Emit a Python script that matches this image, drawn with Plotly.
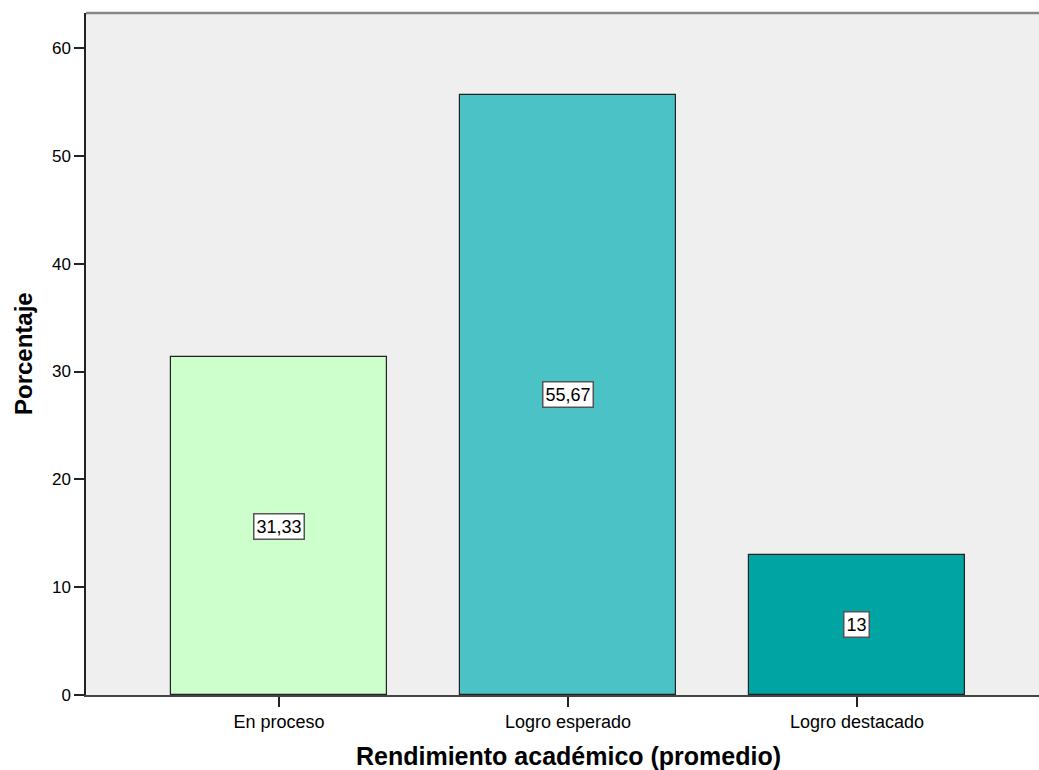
import plotly.graph_objects as go

categories = ["En proceso", "Logro esperado", "Logro destacado"]
values = [31.33, 55.67, 13]
labels = ["31,33", "55,67", "13"]
colors = ["#CCFFCC", "#4BC3C6", "#00A5A3"]
yticks = [0, 10, 20, 30, 40, 50, 60]

FONT = "Liberation Sans, Arial, sans-serif"

fig = go.Figure()
fig.add_trace(go.Bar(
    x=list(range(len(categories))), y=values,
    marker=dict(color=colors, line=dict(color="#222222", width=1.2)),
    width=0.748, hoverinfo="skip", showlegend=False,
))

for i, (v, lab) in enumerate(zip(values, labels)):
    fig.add_annotation(
        x=i, y=v / 2, text=lab, showarrow=False,
        font=dict(family=FONT, size=18, color="#000000"),
        bgcolor="#FFFFFF", bordercolor="#555555", borderwidth=1.5, borderpad=2,
    )

# axis titles
fig.add_annotation(xref="paper", yref="paper", x=0.5058, y=0, yanchor="middle",
                   yshift=-61, showarrow=False,
                   text="<b>Rendimiento académico (promedio)</b>",
                   font=dict(family=FONT, size=25, color="#000000"))
fig.add_annotation(xref="paper", yref="paper", x=0, y=0.5, xanchor="center",
                   xshift=-63, textangle=-90, showarrow=False,
                   text="<b>Porcentaje</b>",
                   font=dict(family=FONT, size=24, color="#000000"))

fig.add_shape(type="line", xref="paper", yref="paper", x0=0, x1=1, y0=1, y1=1,
              line=dict(color="#888888", width=2.5))

fig.update_layout(
    width=1039, height=770,
    margin=dict(l=86, r=0, t=13, b=75),
    paper_bgcolor="#FFFFFF", plot_bgcolor="#EFEFEF",
    font=dict(family=FONT, size=17, color="#000000"),
    bargap=0,
    xaxis=dict(
        tickmode="array", tickvals=list(range(len(categories))), ticktext=categories,
        range=[-0.668, 2.63], showgrid=False, zeroline=False,
        showline=True, linecolor="#444444", linewidth=1.5,
        ticks="outside", ticklen=10, tickcolor="#222222", tickwidth=1.5,
        tickfont=dict(size=18),
    ),
    yaxis=dict(
        range=[0, 63.25], tickvals=yticks, showgrid=False, zeroline=False,
        showline=True, linecolor="#222222", linewidth=1.5,
        ticks="outside", ticklen=10, tickcolor="#222222", tickwidth=1.5,
        tickfont=dict(size=17),
    ),
)

fig.write_html(
    "out.html",
    config={"displayModeBar": False},
    post_script="document.body.style.margin='0';document.body.style.overflow='hidden';",
)
